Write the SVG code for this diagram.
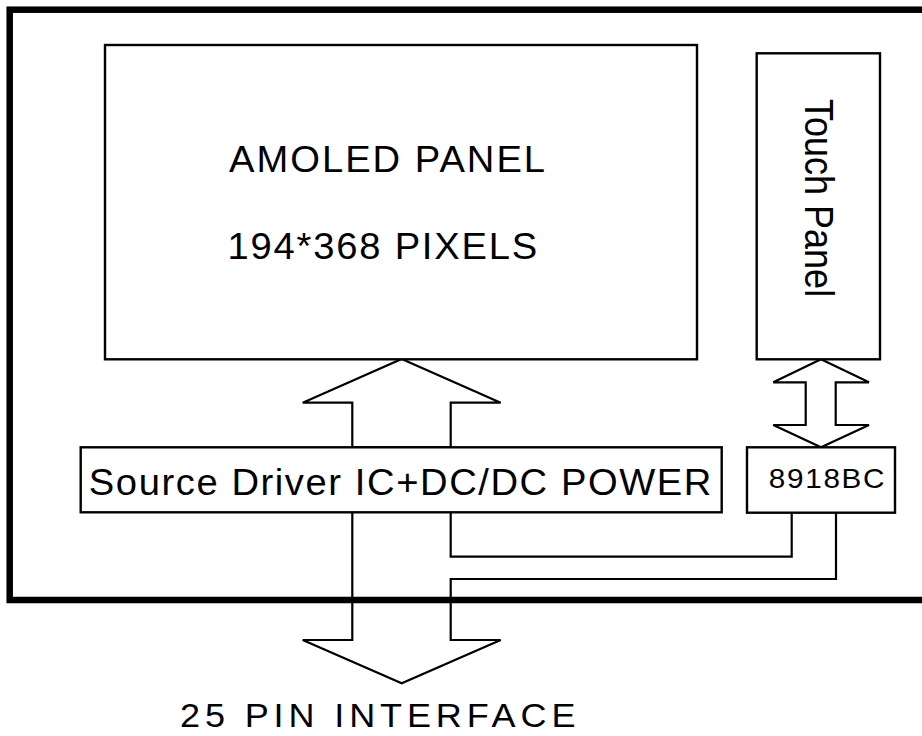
<svg xmlns="http://www.w3.org/2000/svg" width="922" height="736" viewBox="0 0 922 736">
<style>
.box{fill:#fff;stroke:#000;stroke-width:2.4}
.ln{fill:none;stroke:#000;stroke-width:2.2;stroke-linejoin:miter}
.ar{fill:#fff;stroke:#000;stroke-width:2.2;stroke-linejoin:miter}
.t{font-family:"Liberation Sans",Arial,sans-serif;fill:#000}
</style>
<rect width="922" height="736" fill="#fff"/>
<g id="connectors">
<polygon class="ar" points="401.7,359 500.7,402.7 450.7,402.7 450.7,447.3 352.3,447.3 352.3,402.7 302.7,402.7"/>
<polygon class="ar" points="821,359.3 869,382.3 835.7,382.3 835.7,425 869,425 821,447.3 773.3,425 805.7,425 805.7,382.3 773.3,382.3"/>
<path class="ln" d="M352.3,512.3 V640 H302.7 L401.7,683.3 L500.7,640 H450.7 V579 H836 V512.7"/>
<path class="ln" d="M450.7,512.3 V556.7 H791.7 V512.7"/>
</g>
<g id="amoled-panel">
<rect class="box" x="105" y="45" width="592" height="314.3"/>
<text class="t" font-size="36" letter-spacing="1.9" transform="translate(229,172.3) scale(1.06,1)">AMOLED PANEL</text>
<text class="t" font-size="36" letter-spacing="1.7" transform="translate(227.5,259) scale(1.06,1)">194*368 PIXELS</text>
</g>
<g id="touch-panel">
<rect class="box" x="756.7" y="53.3" width="123.3" height="306"/>
<text class="t" font-size="36" transform="translate(805,99) scale(1.12,1) rotate(90)">Touch Panel</text>
</g>
<g id="source-driver">
<rect class="box" x="80.7" y="447.3" width="641" height="65"/>
<text class="t" font-size="36" letter-spacing="1.5" transform="translate(88.8,495) scale(1.06,1)">Source Driver IC+DC/DC POWER</text>
</g>
<g id="ic-8918bc">
<rect class="box" x="747" y="447.3" width="148" height="65.4"/>
<text class="t" font-size="28" letter-spacing="1.6" transform="translate(768.8,487.7) scale(1.06,1)">8918BC</text>
</g>
<g id="frame">
<rect x="9.7" y="9.7" width="925" height="590.3" fill="none" stroke="#000" stroke-width="6.5"/>
</g>
<g id="interface-label">
<text class="t" font-size="34" letter-spacing="4.6" transform="translate(180,726.7) scale(1.06,1)">25 PIN INTERFACE</text>
</g>
</svg>
